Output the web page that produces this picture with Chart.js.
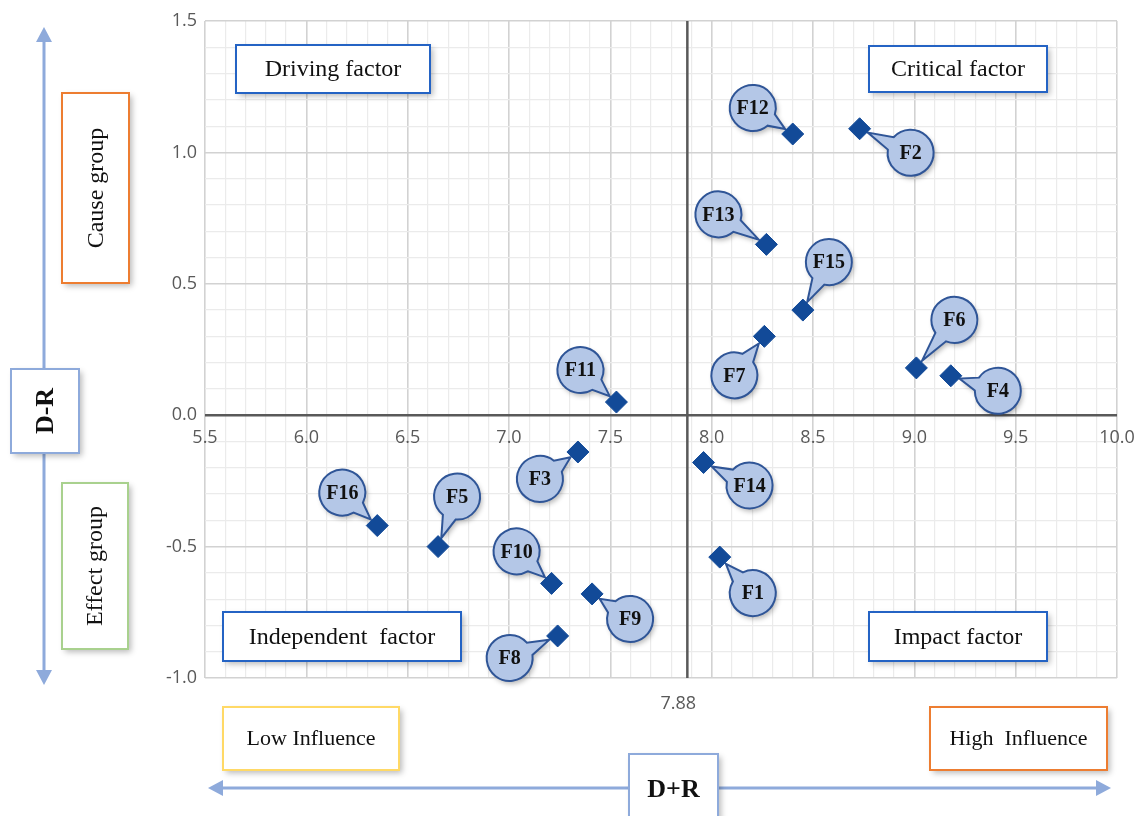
<!DOCTYPE html>
<html>
<head>
<meta charset="utf-8">
<script src="https://cdn.jsdelivr.net/npm/chart.js@4.4.1/dist/chart.umd.min.js"></script>
<style>
  html, body { margin: 0; padding: 0; background: #fff; }
  #wrap { width: 1140px; height: 816px; position: relative; }
</style>
</head>
<body>
<div id="wrap"><canvas id="chart"></canvas></div>
<script>
// factors, D+R (prominence) and D-R (relation)
const factorNames = ['F1', 'F2', 'F3', 'F4', 'F5', 'F6', 'F7', 'F8', 'F9', 'F10', 'F11', 'F12', 'F13', 'F14', 'F15', 'F16'];
const dPlusR  = [8.04, 8.73, 7.34, 9.18, 6.65, 9.01, 8.26, 7.24, 7.41, 7.21, 7.53, 8.40, 8.27, 7.96, 8.45, 6.35];
const dMinusR = [-0.54, 1.09, -0.14, 0.15, -0.50, 0.18, 0.30, -0.84, -0.68, -0.64, 0.05, 1.07, 0.65, -0.18, 0.40, -0.42];
const meanDPlusR = 7.88;

// where each callout bubble sits relative to its point (px)
const calloutOffsets = [
  [33, 36], [51, 24], [-38, 27], [47, 15], [19, -50], [38, -48], [-30, 39], [-48, 22],
  [38, 25], [-35, -32], [-36, -32], [-40, -26], [-48, -30], [46, 23], [26, -48], [-35, -33]
];

const serif = '"Liberation Serif", "Times New Roman", serif';
const isMajor = v => Math.abs(v * 2 - Math.round(v * 2)) < 1e-6;

function shadowOn(ctx) {
  ctx.shadowColor = 'rgba(0,0,0,0.28)';
  ctx.shadowBlur = 6;
  ctx.shadowOffsetX = 3;
  ctx.shadowOffsetY = 3;
}
function shadowOff(ctx) {
  ctx.shadowColor = 'transparent';
  ctx.shadowBlur = 0;
  ctx.shadowOffsetX = 0;
  ctx.shadowOffsetY = 0;
}

function textBox(ctx, x, y, w, h, border, text, font, rotate) {
  ctx.save();
  shadowOn(ctx);
  ctx.fillStyle = '#fff';
  ctx.fillRect(x, y, w, h);
  shadowOff(ctx);
  ctx.strokeStyle = border;
  ctx.lineWidth = 2;
  ctx.strokeRect(x, y, w, h);
  ctx.fillStyle = '#111';
  ctx.font = font;
  ctx.textAlign = 'center';
  ctx.textBaseline = 'middle';
  ctx.translate(x + w / 2, y + h / 2);
  if (rotate) ctx.rotate(-Math.PI / 2);
  ctx.fillText(text, 0, 1);
  ctx.restore();
}

function arrowHead(ctx, tipX, tipY, dir) {
  const L = 15, W = 8;
  ctx.beginPath();
  if (dir === 'up') { ctx.moveTo(tipX, tipY); ctx.lineTo(tipX - W, tipY + L); ctx.lineTo(tipX + W, tipY + L); }
  if (dir === 'down') { ctx.moveTo(tipX, tipY); ctx.lineTo(tipX - W, tipY - L); ctx.lineTo(tipX + W, tipY - L); }
  if (dir === 'left') { ctx.moveTo(tipX, tipY); ctx.lineTo(tipX + L, tipY - W); ctx.lineTo(tipX + L, tipY + W); }
  if (dir === 'right') { ctx.moveTo(tipX, tipY); ctx.lineTo(tipX - L, tipY - W); ctx.lineTo(tipX - L, tipY + W); }
  ctx.closePath();
  ctx.fill();
}

const quadrantPlugin = {
  id: 'quadrant',
  beforeDatasetsDraw(chart) {
    const { ctx, chartArea, scales } = chart;
    const x = scales.x.getPixelForValue(meanDPlusR);
    ctx.save();
    ctx.strokeStyle = '#595959';
    ctx.lineWidth = 2.5;
    ctx.beginPath();
    ctx.moveTo(x, chartArea.top);
    ctx.lineTo(x, chartArea.bottom);
    ctx.stroke();
    ctx.fillStyle = '#595959';
    ctx.font = '18px "Open Sans", sans-serif';
    ctx.textAlign = 'center';
    ctx.textBaseline = 'top';
    ctx.fillText(meanDPlusR.toFixed(2), x - 9, chartArea.bottom + 17);

    // quadrant labels
    const qFont = '24px ' + serif;
    textBox(ctx, 236, 45, 194, 48, '#2463c4', 'Driving factor', qFont);
    textBox(ctx, 869, 46, 178, 46, '#2463c4', 'Critical factor', qFont);
    textBox(ctx, 223, 612, 238, 49, '#2463c4', 'Independent  factor', qFont);
    textBox(ctx, 869, 612, 178, 49, '#2463c4', 'Impact factor', qFont);

    // callout bubbles, drawn under the markers
    const meta = chart.getDatasetMeta(0);
    const R = 23;
    meta.data.forEach((pt, i) => {
      const [dx, dy] = calloutOffsets[i];
      const cx = pt.x + dx, cy = pt.y + dy;
      const a = Math.atan2(-dy, -dx);
      const dist = Math.hypot(dx, dy);
      const tipX = pt.x + (dx / dist) * 9;
      const tipY = pt.y + (dy / dist) * 9;
      const d = 0.3;
      ctx.beginPath();
      ctx.arc(cx, cy, R, a + d, a - d + Math.PI * 2);
      ctx.lineTo(tipX, tipY);
      ctx.closePath();
      shadowOn(ctx);
      ctx.shadowBlur = 5;
      ctx.shadowOffsetX = 2;
      ctx.shadowOffsetY = 3;
      ctx.fillStyle = '#b4c7e7';
      ctx.fill();
      shadowOff(ctx);
      ctx.strokeStyle = '#2f5597';
      ctx.lineWidth = 2;
      ctx.stroke();
      ctx.fillStyle = '#111';
      ctx.font = 'bold 20px ' + serif;
      ctx.textAlign = 'center';
      ctx.textBaseline = 'middle';
      ctx.fillText(factorNames[i], cx, cy + 1);
    });
    ctx.restore();
  },
  afterDraw(chart) {
    const { ctx } = chart;
    ctx.save();
    // vertical D-R arrow
    ctx.strokeStyle = '#8eaadb';
    ctx.fillStyle = '#8eaadb';
    ctx.lineWidth = 3;
    ctx.beginPath();
    ctx.moveTo(44, 40);
    ctx.lineTo(44, 672);
    ctx.stroke();
    arrowHead(ctx, 44, 27, 'up');
    arrowHead(ctx, 44, 685, 'down');
    // horizontal D+R arrow
    ctx.beginPath();
    ctx.moveTo(220, 788);
    ctx.lineTo(1098, 788);
    ctx.stroke();
    arrowHead(ctx, 208, 788, 'left');
    arrowHead(ctx, 1111, 788, 'right');

    textBox(ctx, 62, 93, 67, 190, '#ed7d31', 'Cause group', '24px ' + serif, true);
    textBox(ctx, 62, 483, 66, 166, '#a9d18e', 'Effect group', '24px ' + serif, true);
    textBox(ctx, 11, 369, 68, 84, '#8eaadb', 'D-R', 'bold 26px ' + serif, true);

    textBox(ctx, 223, 707, 176, 63, '#ffd966', 'Low Influence', '22px ' + serif);
    textBox(ctx, 930, 707, 177, 63, '#ed7d31', 'High  Influence', '22px ' + serif);
    textBox(ctx, 629, 754, 89, 70, '#8eaadb', 'D+R', 'bold 26px ' + serif);
    ctx.restore();
  }
};

const tickFont = { family: '"Open Sans", sans-serif', size: 18 };

new Chart(document.getElementById('chart'), {
  type: 'scatter',
  data: {
    datasets: [{
      label: 'Factors',
      data: factorNames.map((n, i) => ({ x: dPlusR[i], y: dMinusR[i] })),
      pointStyle: 'rectRot',
      pointRadius: 11,
      pointHoverRadius: 11,
      backgroundColor: '#124a98',
      borderColor: '#124a98',
      borderWidth: 1
    }]
  },
  options: {
    responsive: true,
    maintainAspectRatio: false,
    animation: false,
    events: [],
    layout: { padding: { top: 21, right: 23, bottom: 138, left: 0 } },
    plugins: { legend: { display: false }, tooltip: { enabled: false } },
    scales: {
      x: {
        type: 'linear',
        position: { y: 0 },
        min: 5.5,
        max: 10,
        border: { display: false },
        afterFit: s => { s.paddingRight = 0; s.paddingLeft = 0; },
        ticks: {
          stepSize: 0.1,
          autoSkip: false,
          maxRotation: 0,
          padding: 12,
          color: '#595959',
          font: tickFont,
          callback: v => isMajor(v) ? v.toFixed(1) : ''
        },
        grid: {
          drawTicks: false,
          color: c => isMajor(c.tick.value) ? '#d2d2d2' : '#ebebeb',
          lineWidth: c => isMajor(c.tick.value) ? 1.6 : 1.2
        }
      },
      y: {
        type: 'linear',
        min: -1,
        max: 1.5,
        border: { display: false },
        afterFit: s => { s.width = 205; },
        ticks: {
          stepSize: 0.1,
          autoSkip: false,
          padding: 8,
          color: '#595959',
          font: tickFont,
          callback: v => isMajor(v) ? v.toFixed(1) : ''
        },
        grid: {
          drawTicks: false,
          color: c => Math.abs(c.tick.value) < 1e-6 ? '#595959' : (isMajor(c.tick.value) ? '#d2d2d2' : '#ebebeb'),
          lineWidth: c => Math.abs(c.tick.value) < 1e-6 ? 2.5 : (isMajor(c.tick.value) ? 1.6 : 1.2)
        }
      }
    }
  },
  plugins: [quadrantPlugin]
});
</script>
</body>
</html>
